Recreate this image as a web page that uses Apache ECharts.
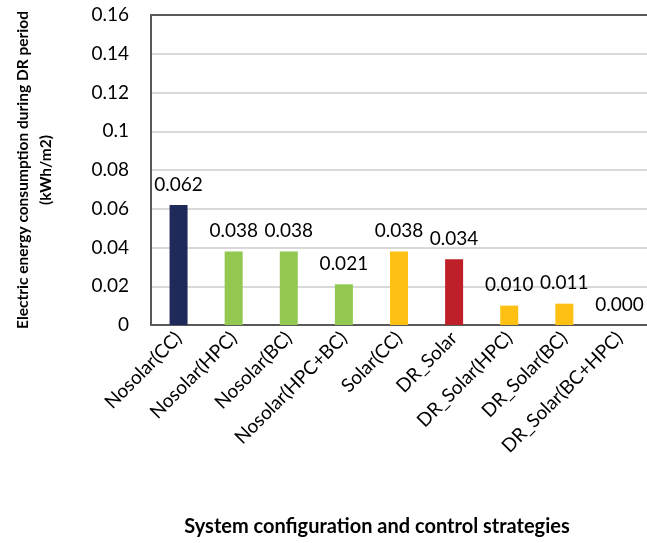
<!DOCTYPE html>
<html>
<head>
<meta charset="utf-8">
<script src="https://cdn.jsdelivr.net/npm/echarts@6/dist/echarts.min.js"></script>
<style>
  html, body { margin: 0; padding: 0; background: #fff; }
  #chart { width: 647px; height: 543px; }
</style>
</head>
<body>
<div id="chart"></div>
<script>
const categories = ['Nosolar(CC)', 'Nosolar(HPC)', 'Nosolar(BC)', 'Nosolar(HPC+BC)', 'Solar(CC)',
  'DR_Solar', 'DR_Solar(HPC)', 'DR_Solar(BC)', 'DR_Solar(BC+HPC)']
const values = [0.062, 0.038, 0.038, 0.021, 0.038, 0.034, 0.010, 0.011, 0.000]
const barColors = ['#1f295a', '#92c850', '#92c850', '#92c850', '#fec013', '#bf1f29', '#fec013', '#fec013', '#fec013']

const font = 'Lato, "Open Sans", sans-serif'

const option = {
  animation: false,
  backgroundColor: '#fff',
  grid: {
    left: 151,
    right: 0,
    top: 15,
    bottom: 218
  },
  xAxis: [
    {
      type: 'category',
      data: categories,
      axisLine: { lineStyle: { color: '#595959', width: 2 } },
      axisTick: { show: false },
      axisLabel: {
        rotate: 45,
        interval: 0,
        margin: 10,
        color: '#000',
        fontFamily: font,
        fontSize: 19
      },
      name: 'System configuration and control strategies',
      nameLocation: 'middle',
      nameGap: 192,
      nameTextStyle: {
        fontFamily: font,
        fontSize: 20,
        fontWeight: 'bold',
        color: '#000',
        padding: [0, 44, 0, 0]
      }
    },
    {
      // top border of the plot area
      type: 'category',
      position: 'top',
      data: categories,
      axisLine: { lineStyle: { color: '#595959', width: 2 } },
      axisTick: { show: false },
      axisLabel: { show: false }
    }
  ],
  yAxis: {
    type: 'value',
    min: 0,
    max: 0.16,
    interval: 0.02,
    axisLine: { show: true, lineStyle: { color: '#595959', width: 2 } },
    axisTick: { show: false },
    splitLine: { lineStyle: { color: '#d9d9d9', width: 2 } },
    axisLabel: {
      margin: 22,
      color: '#000',
      fontFamily: font,
      fontSize: 19,
      formatter: v => String(+v.toFixed(2))
    },
    name: 'Electric energy consumption during DR period\n(kWh/m2)',
    nameLocation: 'middle',
    nameRotate: 90,
    nameGap: 94,
    nameTextStyle: {
      fontFamily: font,
      fontSize: 15.5,
      fontWeight: 'bold',
      color: '#000',
      lineHeight: 23
    }
  },
  series: [
    {
      type: 'bar',
      barWidth: 18,
      data: values.map((v, i) => ({ value: v, itemStyle: { color: barColors[i] } })),
      label: {
        show: true,
        position: 'top',
        distance: 11,
        color: '#000',
        fontFamily: font,
        fontSize: 19,
        formatter: p => p.value.toFixed(3)
      }
    }
  ]
}

const myChart = echarts.init(document.getElementById('chart'))
myChart.setOption(option)
</script>
</body>
</html>
